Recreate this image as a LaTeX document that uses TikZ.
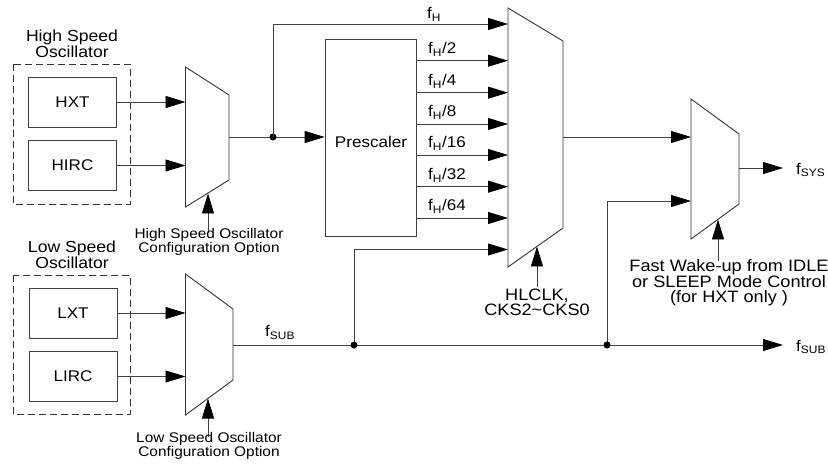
\documentclass[tikz,border=0pt]{standalone}
\usepackage{fontspec}
\setmainfont{Liberation Sans}[FakeStretch=1.1]
\usetikzlibrary{arrows.meta}
\begin{document}
\begin{tikzpicture}[x=1pt,y=-1pt,
  ln/.style={draw=black!75, line width=0.9pt},
  arr/.style={ln, -{Triangle[length=20pt,width=12pt,color=black]}},
  oscbox/.style={draw=black!75, line width=0.9pt, minimum width=88pt, minimum height=50pt, inner sep=0pt, font=\fontsize{15.5}{15.5}\selectfont},
  dashbox/.style={draw=black!80, line width=0.9pt, dash pattern=on 7pt off 4pt},
  muxshape/.style={draw=black!80, line width=0.9pt, fill=white},
  heading/.style={align=center, inner sep=0pt, font=\fontsize{16}{14.5}\selectfont},
  small/.style={align=center, inner sep=0pt, font=\fontsize{14}{12.5}\selectfont},
  ctltext/.style={align=center, inner sep=0pt, font=\fontsize{16.5}{15}\selectfont},
  flabel/.style={inner sep=0pt, anchor=base west, font=\fontsize{15.5}{15.5}\selectfont},
  dot/.style={fill=black}
]
\useasboundingbox (0,0) rectangle (828,465);

% ---------- High speed oscillator group ----------
\node[heading] (hstitle) at (72,43.5) {High Speed\\Oscillator};
\draw[dashbox] (13,64) rectangle (130,204);
\node[oscbox] (hxt) at (72.5,102) {HXT};
\node[oscbox] (hirc) at (72.5,165.5) {HIRC};

% mux 1
\draw[muxshape] (185.5,67) -- (229,95) -- (229,180) -- (185.5,207) -- cycle;
\coordinate (m1a) at (185.5,102);
\coordinate (m1b) at (185.5,165.5);
\coordinate (m1o) at (229,137);
\coordinate (m1c) at (208,193.5);
\coordinate (m1cs) at (208,233);
\draw[arr] (hxt.east) -- (m1a);
\draw[arr] (hirc.east) -- (m1b);
\draw[arr] (m1cs) -- (m1c);
\node[small] (hscfg) at (209,241.5) {High Speed Oscillator\\Configuration Option};

% ---------- Low speed oscillator group ----------
\node[heading] (lstitle) at (72,255) {Low Speed\\Oscillator};
\draw[dashbox] (13,275) rectangle (130,414);
\node[oscbox] (lxt) at (73,313) {LXT};
\node[oscbox] (lirc) at (73,376.5) {LIRC};

% mux 4
\draw[muxshape] (185.5,274) -- (233,309) -- (233,380) -- (185.5,415) -- cycle;
\coordinate (m4a) at (185.5,313);
\coordinate (m4b) at (185.5,376.5);
\coordinate (m4o) at (233,345);
\coordinate (m4c) at (208,398.5);
\coordinate (m4cs) at (208,437);
\draw[arr] (lxt.east) -- (m4a);
\draw[arr] (lirc.east) -- (m4b);
\draw[arr] (m4cs) -- (m4c);
\node[small] (lscfg) at (209,446) {Low Speed Oscillator\\Configuration Option};

% ---------- Prescaler ----------
\node[draw=black!75, line width=0.9pt, minimum width=91.7pt, minimum height=197pt, inner sep=0pt] (pre) at (371,137.5) {};
\node[inner sep=0pt, font=\fontsize{15.5}{15.5}\selectfont] (pretext) at (371,142) {Prescaler};

\coordinate (d1) at (273,137);
\draw[ln] (m1o) -- (d1);
\draw[arr] (d1) -- (pre.west |- d1);
\fill[dot] (d1) circle[radius=3.5pt];

% ---------- mux 2 ----------
\draw[muxshape] (508,8) -- (563,41) -- (563,228) -- (508,267) -- cycle;
\coordinate (m2h) at (508,24);
\coordinate (m2o) at (563,137);
\coordinate (m2c) at (537,246.5);
\coordinate (m2cs) at (537,287);
\coordinate (m2s) at (508,249.5);
\draw[arr] (d1) -- (273,24) -- (m2h);
\node[flabel] (lfh) at (427,19) {f\textsubscript{H}};

\foreach \yy/\dv in {60.7/2,92.7/4,124/8,155/16,186.7/32,218/64}{
  \coordinate (po\dv) at (416.7,\yy);
  \coordinate (mi\dv) at (508,\yy);
  \draw[arr] (po\dv) -- (mi\dv);
  \node[flabel] (lf\dv) at (428,\yy-7) {f\textsubscript{H}/\dv};
}
\draw[arr] (m2cs) -- (m2c);
\node[ctltext] (hlclk) at (537,302.5) {HLCLK,\\CKS2\textasciitilde CKS0};

% ---------- f_SUB line ----------
\coordinate (d2) at (354,345);
\coordinate (d3) at (607,345);
\coordinate (fsubend) at (783,345);
\draw[arr] (m4o) -- (fsubend);
\node[flabel] (lfsub) at (265,337) {f\textsubscript{SUB}};
\draw[arr] (d2) -- (354,249.5) -- (m2s);
\fill[dot] (d2) circle[radius=3.5pt];
\node[inner sep=0pt, anchor=west, font=\fontsize{15.5}{15.5}\selectfont] (fsubr) at (796,347) {f\textsubscript{SUB}};

% ---------- mux 3 ----------
\draw[muxshape] (691,99) -- (739,134) -- (739,204) -- (691,239) -- cycle;
\coordinate (m3a) at (691,137);
\coordinate (m3b) at (691,201);
\coordinate (m3o) at (739,168);
\coordinate (m3c) at (718,219.5);
\coordinate (m3cs) at (718,261);
\coordinate (fsysend) at (783,168);
\draw[arr] (m2o) -- (m3a);
\draw[arr] (d3) -- (607,201) -- (m3b);
\fill[dot] (d3) circle[radius=3.5pt];
\draw[arr] (m3o) -- (fsysend);
\node[inner sep=0pt, anchor=west, font=\fontsize{15.5}{15.5}\selectfont] (fsys) at (796,170) {f\textsubscript{SYS}};
\draw[arr] (m3cs) -- (m3c);
\node[ctltext] (wake) at (729,282.5) {Fast Wake-up from IDLE\\or SLEEP Mode Control\\(for HXT only )};
\end{tikzpicture}
\end{document}
